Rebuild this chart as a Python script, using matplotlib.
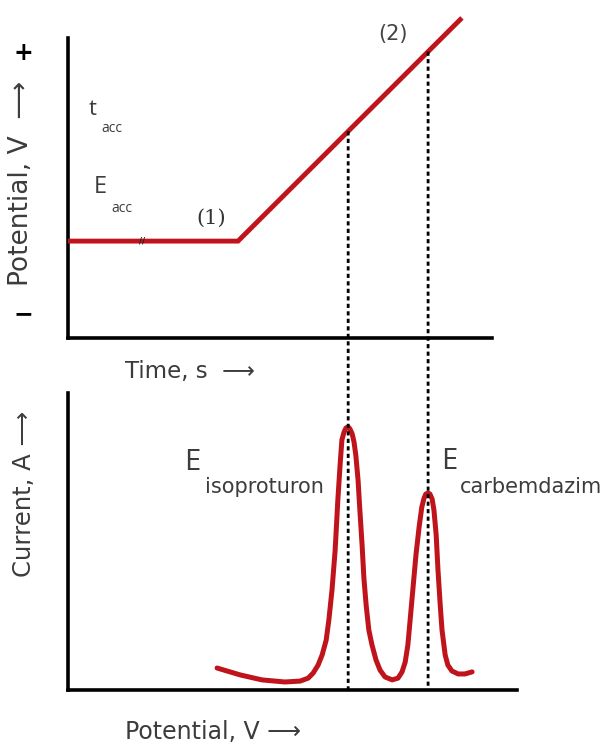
import numpy as np
import matplotlib
matplotlib.use("Agg")
import matplotlib.pyplot as plt
from matplotlib.patches import ConnectionPatch

plt.rcParams['font.family'] = ['DejaVu Sans']

# Applied potential waveform: accumulation step (1) followed by a linear sweep (2)
wave_t = [0.0, 4.01, 9.29]        # time, s
wave_E = [0.323, 0.323, 1.067]    # potential (relative units)

# Stripping voltammogram (relative potential vs relative current)
volt_E = [0.332, 0.383, 0.432, 0.483, 0.517, 0.535, 0.546, 0.557, 0.566,
          0.575, 0.581, 0.588, 0.595, 0.601, 0.606, 0.610, 0.615, 0.619,
          0.624, 0.628, 0.633, 0.637, 0.641, 0.646, 0.650, 0.655, 0.659,
          0.664, 0.670, 0.677, 0.686, 0.695, 0.706, 0.722, 0.735, 0.744,
          0.751, 0.757, 0.762, 0.768, 0.775, 0.782, 0.788, 0.793, 0.797,
          0.802, 0.806, 0.811, 0.815, 0.820, 0.824, 0.829, 0.833, 0.840,
          0.846, 0.855, 0.869, 0.884, 0.900]
volt_I = [0.074, 0.051, 0.034, 0.027, 0.030, 0.040, 0.057, 0.084, 0.118,
          0.168, 0.236, 0.337, 0.471, 0.640, 0.758, 0.842, 0.869, 0.882,
          0.886, 0.879, 0.862, 0.835, 0.791, 0.707, 0.606, 0.488, 0.377,
          0.286, 0.202, 0.152, 0.101, 0.067, 0.044, 0.034, 0.040, 0.061,
          0.094, 0.152, 0.236, 0.337, 0.455, 0.549, 0.616, 0.646, 0.660,
          0.663, 0.660, 0.643, 0.606, 0.522, 0.404, 0.286, 0.202, 0.118,
          0.084, 0.064, 0.054, 0.054, 0.061]

# Peak potentials of the two analytes
peak_names = ["isoproturon", "carbemdazim"]
peak_E = [0.624, 0.802]

RED = "#c0141c"
INK = "#3c3c3c"

W, H = 604, 745
fig = plt.figure(figsize=(W / 100, H / 100), dpi=100)


def rect(x0, y0, x1, y1):
    return [x0 / W, 1 - y1 / H, (x1 - x0) / W, (y1 - y0) / H]


ax_top = fig.add_axes(rect(68, 38, 492, 338))
ax_bot = fig.add_axes(rect(68, 393, 517, 690))

for ax in (ax_top, ax_bot):
    ax.set_ylim(0, 1)
    for side in ("top", "right"):
        ax.spines[side].set_visible(False)
    for side in ("left", "bottom"):
        ax.spines[side].set_linewidth(2.6)
        ax.spines[side].set_color("black")
    ax.set_xticks([])
    ax.patch.set_alpha(0)

ax_top.set_xlim(0, 10)
ax_bot.set_xlim(0, 1)
ax_bot.set_yticks([])

# polarity marks on the potential axis
ax_top.set_yticks([0.96, 0.087])
ax_top.set_yticklabels(["+", "\u2212"], fontsize=17, fontweight="bold")
ax_top.tick_params(axis="y", length=0, pad=25)

# waveform
ax_top.plot(wave_t, wave_E, color=RED, lw=3.5, solid_capstyle="butt",
            solid_joinstyle="miter", clip_on=False, zorder=3)

# voltammogram
ax_bot.plot(volt_E, volt_I, color=RED, lw=3.6, solid_capstyle="round",
            solid_joinstyle="round", clip_on=False, zorder=3)

# dashed guides from the sweep to each peak
for E in peak_E:
    xd = ax_bot.transData.transform((E, 0))[0]
    t = ax_top.transData.inverted().transform((xd, 0))[0]
    Et = np.interp(t, wave_t, wave_E)
    con = ConnectionPatch(xyA=(t, Et), coordsA=ax_top.transData,
                          xyB=(E, 0), coordsB=ax_bot.transData,
                          color="black", lw=2.0, linestyle=(0, (1.5, 1.2)),
                          capstyle="butt", zorder=5)
    fig.add_artist(con)

# annotations, top panel
ax_top.text(0.59, 0.763, "t", fontsize=16, color=INK, ha="center",
            va="center", family="Open Sans")
ax_top.text(1.03, 0.70, "acc", fontsize=10, color=INK, ha="center",
            va="center", family="Open Sans")
ax_top.text(0.77, 0.502, "E", fontsize=17, color=INK, ha="center",
            va="center", family="Open Sans")
ax_top.text(1.26, 0.433, "acc", fontsize=10, color=INK, ha="center",
            va="center", family="Open Sans")
ax_top.text(3.37, 0.40, "(1)", fontsize=15, color="#333333", ha="center",
            va="center", family="DejaVu Serif")
ax_top.text(7.67, 1.013, "(2)", fontsize=15, color="#444444", ha="center",
            va="center")
ax_top.text(1.75, 0.323, "//", fontsize=6, color="#222222", ha="center",
            va="center", fontweight="bold", zorder=4)

ax_top.text(-0.111, 0.515, "Potential, V  \u27f6", transform=ax_top.transAxes,
            rotation=90, fontsize=19, color=INK, ha="center", va="center")
ax_top.text(0.287, -0.113, "Time, s  \u27f6", transform=ax_top.transAxes,
            fontsize=16.5, color=INK, ha="center", va="center")

# annotations, bottom panel
ax_bot.text(0.277, 0.766, "E", fontsize=21, color=INK, ha="center",
            va="center", family="Open Sans")
ax_bot.text(0.437, 0.684, peak_names[0], fontsize=15, color=INK,
            ha="center", va="center")
ax_bot.text(0.849, 0.771, "E", fontsize=21, color=INK, ha="center",
            va="center", family="Open Sans")
ax_bot.text(1.031, 0.684, peak_names[1], fontsize=15, color=INK,
            ha="center", va="center")

ax_bot.text(-0.098, 0.662, "Current, A \u27f6", transform=ax_bot.transAxes,
            rotation=90, fontsize=17.5, color=INK, ha="center", va="center")
ax_bot.text(0.324, -0.141, "Potential, V \u27f6", transform=ax_bot.transAxes,
            fontsize=17, color=INK, ha="center", va="center")

fig.savefig("out.png", dpi=100, facecolor="white")
